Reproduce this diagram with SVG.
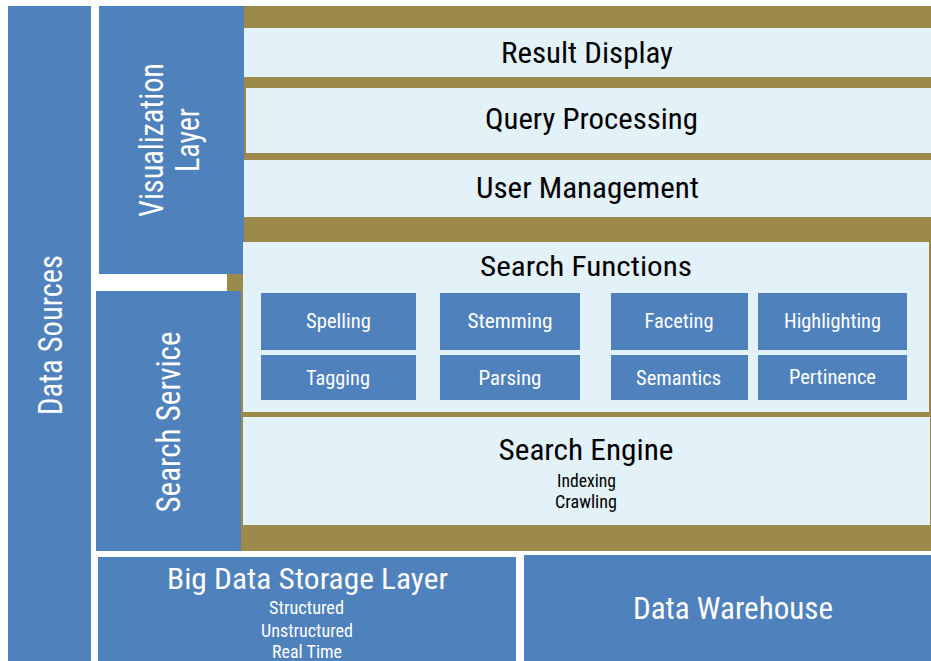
<svg xmlns="http://www.w3.org/2000/svg" width="931" height="661" viewBox="0 0 931 661">
<style>
.blue{fill:#4F81BD}
.gold{fill:#9C8A4B}
.pale{fill:#E3F1F9}
text{font-family:"Roboto Condensed","Liberation Sans Narrow",Roboto,"Liberation Sans",sans-serif;text-anchor:middle}
.w{fill:#FFFFFF}
.k{fill:#000000}
</style>
<rect width="931" height="661" fill="#FFFFFF"/>
<g id="backdrop">
<rect class="gold" x="227" y="6" width="704" height="545"/>
</g>
<g id="data-sources">
<rect class="blue" x="8" y="6" width="83" height="655"/>
<text class="w" font-size="34" transform="translate(62,335) rotate(-90)" textLength="160" lengthAdjust="spacingAndGlyphs">Data Sources</text>
</g>
<g id="visualization-layer">
<rect class="blue" x="99" y="6" width="145" height="268"/>
<text class="w" font-size="33" transform="translate(163,140) rotate(-90)" textLength="154" lengthAdjust="spacingAndGlyphs">Visualization</text>
<text class="w" font-size="33" transform="translate(199,140) rotate(-90)" textLength="64" lengthAdjust="spacingAndGlyphs">Layer</text>
</g>
<g id="result-display">
<rect class="pale" x="244" y="28" width="687" height="49"/>
<text class="k" x="587" y="63" font-size="30" textLength="172" lengthAdjust="spacingAndGlyphs">Result Display</text>
</g>
<g id="query-processing">
<rect class="pale" x="246" y="88" width="685" height="65"/>
<text class="k" x="591.5" y="129" font-size="30" textLength="213" lengthAdjust="spacingAndGlyphs">Query Processing</text>
</g>
<g id="user-management">
<rect class="pale" x="244" y="160" width="687" height="57"/>
<text class="k" x="587.5" y="198" font-size="30" textLength="223" lengthAdjust="spacingAndGlyphs">User Management</text>
</g>
<g id="search-service">
<rect class="blue" x="96" y="291" width="145" height="260"/>
<text class="w" font-size="33" transform="translate(180,422) rotate(-90)" textLength="181" lengthAdjust="spacingAndGlyphs">Search Service</text>
</g>
<g id="search-functions">
<rect class="pale" x="243" y="242" width="686" height="170"/>
<text class="k" x="586" y="276" font-size="28" textLength="212" lengthAdjust="spacingAndGlyphs">Search Functions</text>
</g>
<g id="spelling">
<rect class="blue" x="261" y="293" width="155" height="57"/>
<text class="w" x="338.5" y="328" font-size="21" textLength="65" lengthAdjust="spacingAndGlyphs">Spelling</text>
</g>
<g id="stemming">
<rect class="blue" x="440" y="293" width="140" height="57"/>
<text class="w" x="510" y="328" font-size="21" textLength="85" lengthAdjust="spacingAndGlyphs">Stemming</text>
</g>
<g id="faceting">
<rect class="blue" x="611" y="293" width="137" height="57"/>
<text class="w" x="679" y="328" font-size="21" textLength="69" lengthAdjust="spacingAndGlyphs">Faceting</text>
</g>
<g id="highlighting">
<rect class="blue" x="758" y="293" width="149" height="57"/>
<text class="w" x="832.5" y="328" font-size="21" textLength="97" lengthAdjust="spacingAndGlyphs">Highlighting</text>
</g>
<g id="tagging">
<rect class="blue" x="261" y="355" width="155" height="45"/>
<text class="w" x="338" y="385" font-size="21" textLength="64" lengthAdjust="spacingAndGlyphs">Tagging</text>
</g>
<g id="parsing">
<rect class="blue" x="440" y="355" width="140" height="45"/>
<text class="w" x="510" y="385" font-size="21" textLength="63" lengthAdjust="spacingAndGlyphs">Parsing</text>
</g>
<g id="semantics">
<rect class="blue" x="611" y="355" width="137" height="45"/>
<text class="w" x="678.5" y="385" font-size="21" textLength="85" lengthAdjust="spacingAndGlyphs">Semantics</text>
</g>
<g id="pertinence">
<rect class="blue" x="758" y="355" width="149" height="45"/>
<text class="w" x="832.5" y="384" font-size="21" textLength="87" lengthAdjust="spacingAndGlyphs">Pertinence</text>
</g>
<g id="search-engine">
<rect class="pale" x="243" y="417" width="687" height="108"/>
<text class="k" x="586" y="460" font-size="30" textLength="175" lengthAdjust="spacingAndGlyphs">Search Engine</text>
<text class="k" x="586.5" y="487" font-size="18" textLength="59" lengthAdjust="spacingAndGlyphs">Indexing</text>
<text class="k" x="586" y="508" font-size="18" textLength="62" lengthAdjust="spacingAndGlyphs">Crawling</text>
</g>
<g id="big-data-storage">
<rect class="blue" x="98" y="557" width="418" height="104"/>
<text class="w" x="307.5" y="589" font-size="30" textLength="281" lengthAdjust="spacingAndGlyphs">Big Data Storage Layer</text>
<text class="w" x="306.5" y="614" font-size="18" textLength="75" lengthAdjust="spacingAndGlyphs">Structured</text>
<text class="w" x="307" y="637" font-size="18" textLength="92" lengthAdjust="spacingAndGlyphs">Unstructured</text>
<text class="w" x="307" y="658" font-size="18" textLength="70" lengthAdjust="spacingAndGlyphs">Real Time</text>
</g>
<g id="data-warehouse">
<rect class="blue" x="524" y="555" width="407" height="106"/>
<text class="w" x="733" y="619" font-size="32" textLength="200" lengthAdjust="spacingAndGlyphs">Data Warehouse</text>
</g>
<g id="connectors"></g>
</svg>
